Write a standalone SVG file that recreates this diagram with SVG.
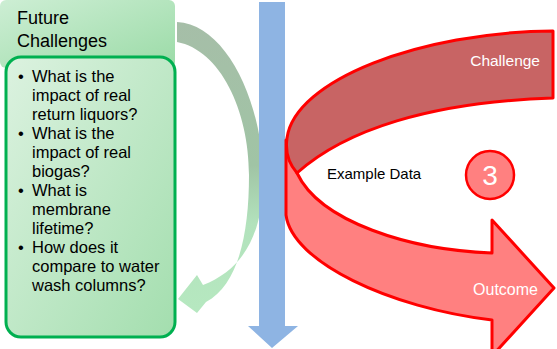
<svg xmlns="http://www.w3.org/2000/svg" width="557" height="349" viewBox="0 0 557 349">
<defs>
<linearGradient id="hdr" x1="0" y1="0" x2="1" y2="1">
<stop offset="0" stop-color="#cdeed4"/>
<stop offset="1" stop-color="#9bdba7"/>
</linearGradient>
<linearGradient id="body" x1="0" y1="0" x2="1" y2="1">
<stop offset="0" stop-color="#dcf2e0"/>
<stop offset="1" stop-color="#a3deae"/>
</linearGradient>
<linearGradient id="garrow" gradientUnits="userSpaceOnUse" x1="0" y1="20" x2="0" y2="310">
<stop offset="0" stop-color="#a6bea8"/>
<stop offset="0.5" stop-color="#a0c4a5"/>
<stop offset="0.7" stop-color="#b2e2bc"/>
<stop offset="1" stop-color="#b6e8c0"/>
</linearGradient>
<style>
.t{font-family:"Liberation Sans",Arial,sans-serif;fill:#000}
.w{font-family:"Liberation Sans",Arial,sans-serif;fill:#fff}
.red{stroke:#ff0000;stroke-width:3;stroke-linejoin:round}
</style>
</defs>
<g id="connectors">
<path id="green-arrow" d="M177,22 C225,24 262,100 263,175 C264,235 242,270 203,285 L197,275 L178,299 L197,313 L206,302 C238,285 249,235 249,175 C249,110 220,50 177,42 Z" fill="url(#garrow)"/>
<polygon id="blue-arrow" points="259,2 285,2 285,326 298,326 272,348 248,326 259,326" fill="#8eb4e3"/>
</g>
<g id="header">
<rect x="0" y="0" width="175" height="68" rx="6" fill="url(#hdr)"/>
<text class="t" x="17" y="24" font-size="18">Future</text>
<text class="t" x="17" y="47" font-size="18">Challenges</text>
</g>
<g id="questions">
<rect x="6" y="57" width="169" height="280" rx="15" fill="url(#body)" stroke="#00b050" stroke-width="3"/>
<g class="t" font-size="16.5">
<text x="18" y="82">•</text>
<text x="32" y="82">What is the</text>
<text x="32" y="101">impact of real</text>
<text x="32" y="120">return liquors?</text>
<text x="18" y="139">•</text>
<text x="32" y="139">What is the</text>
<text x="32" y="158">impact of real</text>
<text x="32" y="177">biogas?</text>
<text x="18" y="196">•</text>
<text x="32" y="196">What is</text>
<text x="32" y="215">membrane</text>
<text x="32" y="234">lifetime?</text>
<text x="18" y="253">•</text>
<text x="32" y="253">How does it</text>
<text x="32" y="272">compare to water</text>
<text x="32" y="291">wash columns?</text>
</g>
</g>
<g id="outcome">
<path class="red" d="M300,140 L286,140 L286,215 C292,262 390,308 492,320 L492,356 L554,288 L492,220 L492,253 C410,250 320,222 297,173 Z" fill="#ff8080"/>
<text class="w" x="538" y="295" font-size="16" text-anchor="end">Outcome</text>
</g>
<g id="challenge">
<path class="red" d="M553,31 C420,32 295,80 287,138 C285,152 289,164 297,173 C345,130 430,102 553,98 Z" fill="#c86464"/>
<text class="w" x="540" y="66" font-size="15.5" text-anchor="end">Challenge</text>
</g>
<g id="example-data">
<text class="t" x="327" y="179" font-size="15">Example Data</text>
</g>
<g id="step-3">
<circle cx="490" cy="175" r="24" fill="#ff8080" stroke="#ff0000" stroke-width="2.5"/>
<text class="w" x="490" y="185" font-size="28" text-anchor="middle">3</text>
</g>
</svg>
